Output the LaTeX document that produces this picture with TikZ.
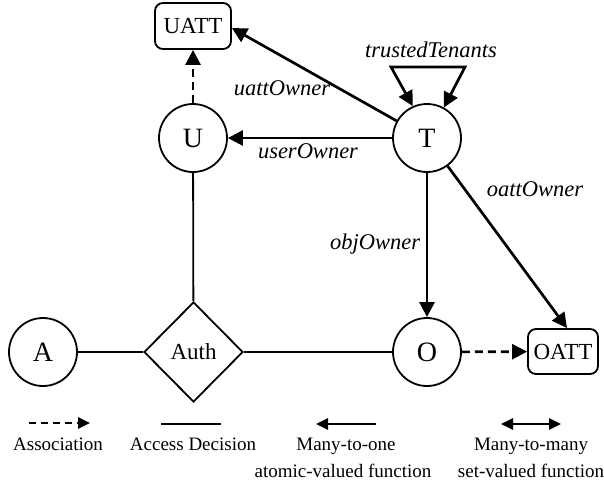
\documentclass[tikz,border=0pt]{standalone}
\usepackage{fontspec}
\setmainfont{Liberation Serif}
\usetikzlibrary{arrows.meta,shapes.geometric}
\begin{document}
\begin{tikzpicture}[x=1pt,y=-1pt,
  circ/.style={circle,draw,line width=1.8pt,minimum size=68pt,inner sep=0pt,font=\fontsize{28}{28}\selectfont},
  attbox/.style={rectangle,rounded corners=8pt,draw,line width=1.8pt,inner sep=0pt,font=\fontsize{23}{23}\selectfont},
  dia/.style={diamond,draw,line width=1.8pt,minimum width=99pt,minimum height=100pt,inner sep=0pt,shape aspect=1,font=\fontsize{23}{23}\selectfont},
  fn/.style={line width=2.7pt,-{Triangle[length=15pt,width=15pt]}},
  assoc/.style={line width=2.7pt,dash pattern=on 8pt off 5pt,-{Triangle[length=15pt,width=15pt]}},
  decision/.style={line width=1.8pt},
  elabel/.style={font=\fontsize{22.5}{22.5}\selectfont\itshape,inner sep=0pt},
  legtext/.style={font=\fontsize{19}{19}\selectfont,inner sep=0pt,anchor=base},
  legfn/.style={line width=2.6pt,-{Triangle[length=12pt,width=11pt]}},
  legboth/.style={line width=2.6pt,{Triangle[length=12pt,width=11pt]}-{Triangle[length=12pt,width=11pt]}},
  legassoc/.style={line width=2.6pt,dash pattern=on 7pt off 5pt,-{Triangle[length=12pt,width=11pt]}},
  ]
\useasboundingbox (0,0) rectangle (604,483);

% nodes
\node[attbox,minimum width=76pt,minimum height=46pt] (UATT) at (193,26) {UATT};
\node[circ] (U) at (193,138) {U};
\node[circ] (T) at (427,138) {T};
\node[circ] (A) at (43,352) {A};
\node[dia] (Auth) at (193.5,352) {Auth};
\node[circ] (O) at (427,352) {O};
\node[attbox,minimum width=70pt,minimum height=45pt] (OATT) at (563,351.5) {OATT};

% access decision lines
\draw[decision] (A) -- (Auth);
\draw[decision] (Auth) -- (O);
\draw[decision] (U) -- (Auth);

% associations
\draw[assoc] (U) -- (UATT);
\draw[assoc] (O) -- (OATT);

% functions
\draw[fn] (T) -- ([yshift=-2pt]UATT.east);
\draw[fn] (T) -- (U);
\draw[fn] (T) -- (O);
\draw[fn] (T) -- ([xshift=4pt]OATT.north);

% trustedTenants self loop
\coordinate (tl) at (391,67);
\coordinate (tr) at (465,67);
\draw[line width=2.7pt,{Triangle[length=15pt,width=15pt]}-{Triangle[length=15pt,width=15pt]}] (T.114) -- (tl) -- (tr) -- (T.61);

% edge labels
\node[elabel] (lblTT) at (431,50) {trustedTenants};
\node[elabel] (lblUA) at (282,88) {uattOwner};
\node[elabel] (lblUO) at (308,151) {userOwner};
\node[elabel] (lblOO) at (375,244) {objOwner};
\node[elabel] (lblOA) at (535,189) {oattOwner};

% legend
\coordinate (l1a) at (29,423); \coordinate (l1b) at (90,423);
\coordinate (l2a) at (161,424); \coordinate (l2b) at (221,424);
\coordinate (l3a) at (376,424); \coordinate (l3b) at (316,424);
\coordinate (l4a) at (501,424); \coordinate (l4b) at (561,424);
\draw[legassoc] (l1a) -- (l1b);
\draw[decision,line width=2pt] (l2a) -- (l2b);
\draw[legfn] (l3a) -- (l3b);
\draw[legboth] (l4a) -- (l4b);

\node[legtext] (t1) at (58,450) {Association};
\node[legtext] (t2) at (193,450) {Access Decision};
\node[legtext] (t3) at (346,450) {Many-to-one};
\node[legtext] (t3b) at (343,477) {atomic-valued function};
\node[legtext] (t4) at (531,450) {Many-to-many};
\node[legtext] (t4b) at (531,477) {set-valued function};
\end{tikzpicture}
\end{document}
